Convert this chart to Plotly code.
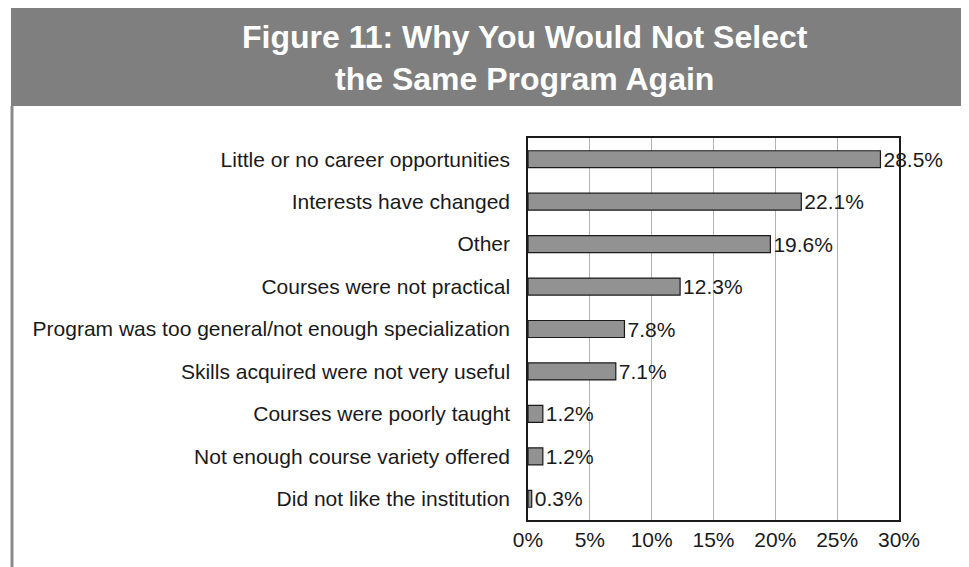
import plotly.graph_objects as go

reasons = [
    "Little or no career opportunities",
    "Interests have changed",
    "Other",
    "Courses were not practical",
    "Program was too general/not enough specialization",
    "Skills acquired were not very useful",
    "Courses were poorly taught",
    "Not enough course variety offered",
    "Did not like the institution",
]
shares = [28.5, 22.1, 19.6, 12.3, 7.8, 7.1, 1.2, 1.2, 0.3]
share_labels = ["28.5%", "22.1%", "19.6%", "12.3%", "7.8%", "7.1%", "1.2%", "1.2%", "0.3%"]
x_ticks = [0, 5, 10, 15, 20, 25, 30]
x_tick_text = ["0%", "5%", "10%", "15%", "20%", "25%", "30%"]

# page body has an 8px margin, so the figure is drawn 8px in from the top-left
OFF = 8
W, H = 969 - OFF, 567 - OFF
# plot area in page pixels: x 528..899, y 138..520
L, R, T, B = 528 - OFF, 969 - 899, 138 - OFF, 567 - 520
pw, ph = W - L - R, H - T - B


def px(x):
    return (x - OFF - L) / pw


def py(y):
    return (H - B - (y - OFF)) / ph


font = "Liberation Sans, Arial, Helvetica, sans-serif"
ink = "#1a1a1a"

fig = go.Figure(go.Bar(
    x=shares,
    y=reasons,
    orientation="h",
    text=share_labels,
    textposition="outside",
    constraintext="none",
    textfont=dict(size=21, color=ink, family=font),
    cliponaxis=False,
    marker=dict(color="#929292", line=dict(color=ink, width=1.2)),
))

fig.update_layout(
    width=W,
    height=H,
    margin=dict(l=L, r=R, t=T, b=B),
    paper_bgcolor="white",
    plot_bgcolor="white",
    bargap=0.6,
    showlegend=False,
    font=dict(family=font, size=21, color=ink),
    shapes=[
        # grey title band
        dict(type="rect", xref="paper", yref="paper",
             x0=px(11), x1=px(980), y0=py(106), y1=py(0),
             fillcolor="#7f7f7f", line_width=0, layer="below"),
        # left frame line
        dict(type="line", xref="paper", yref="paper",
             x0=px(12), x1=px(12), y0=py(106), y1=py(580),
             line=dict(color="#8a8a8a", width=3)),
    ],
    annotations=[
        dict(text="<b>Figure 11: Why You Would Not Select<br>the Same Program Again</b>",
             xref="paper", yref="paper", x=px(525), y=py(58),
             xanchor="center", yanchor="middle", showarrow=False,
             font=dict(size=32, color="white", family=font)),
    ],
)

fig.update_xaxes(
    range=[0, 30],
    tickvals=x_ticks,
    ticktext=x_tick_text,
    showgrid=True,
    gridcolor="#b3b3b3",
    gridwidth=1,
    showline=True,
    linecolor=ink,
    linewidth=1.5,
    mirror=True,
    zeroline=False,
    ticks="",
    tickfont=dict(size=21),
)
fig.update_yaxes(
    autorange="reversed",
    showline=True,
    linecolor=ink,
    linewidth=1.5,
    mirror=True,
    ticks="",
    ticklabelstandoff=12,
    tickfont=dict(size=21),
)

fig.write_html("out.html")
